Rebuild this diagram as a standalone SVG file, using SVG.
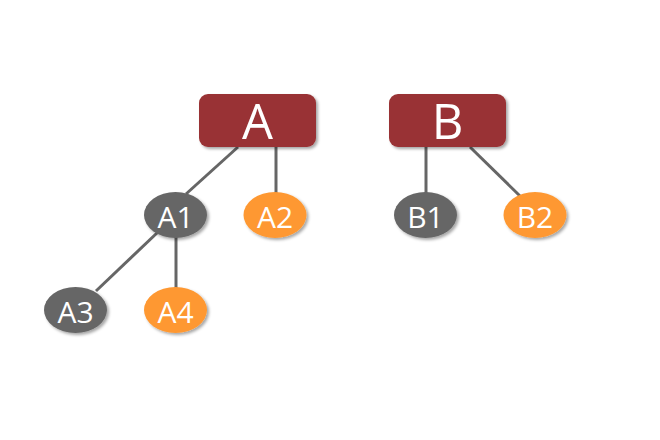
<svg xmlns="http://www.w3.org/2000/svg" width="660" height="440" viewBox="0 0 660 440">
  <defs>
    <filter id="shadow" x="-20%" y="-20%" width="150%" height="160%">
      <feDropShadow dx="2" dy="2" stdDeviation="1.5" flood-color="#000" flood-opacity="0.35"/>
    </filter>
  </defs>
  <style>
    .box { fill: #993334; filter: url(#shadow); }
    .gray { fill: #666666; filter: url(#shadow); }
    .orange { fill: #fe9831; filter: url(#shadow); }
    .big { font-family: "Open Sans", "DejaVu Sans", sans-serif; font-size: 49px; fill: #fff; text-anchor: middle; }
    .small { font-family: "Open Sans", "DejaVu Sans", sans-serif; font-size: 30px; fill: #fff; text-anchor: middle; }
    .link { stroke: #666666; stroke-width: 3; fill: none; }
  </style>
  <rect width="660" height="440" fill="#ffffff"/>

  <g id="connectors">
    <line class="link" x1="238" y1="147" x2="186" y2="194"/>
    <line class="link" x1="276" y1="147" x2="276" y2="193"/>
    <line class="link" x1="426" y1="147" x2="426" y2="193"/>
    <line class="link" x1="470" y1="147" x2="520" y2="196"/>
    <line class="link" x1="158" y1="232" x2="96" y2="291"/>
    <line class="link" x1="176" y1="237" x2="176" y2="289"/>
  </g>

  <g id="A">
    <rect class="box" x="199" y="94" width="117" height="53" rx="9"/>
    <text class="big" x="257.5" y="138.5">A</text>
  </g>
  <g id="B">
    <rect class="box" x="389" y="94" width="117" height="53" rx="9"/>
    <text class="big" x="447.5" y="138.5">B</text>
  </g>
  <g id="A1">
    <ellipse class="gray" cx="175.5" cy="215" rx="31.5" ry="23"/>
    <text class="small" x="175.5" y="227.5">A1</text>
  </g>
  <g id="A2">
    <ellipse class="orange" cx="275" cy="215" rx="31.5" ry="23"/>
    <text class="small" x="275" y="227.5">A2</text>
  </g>
  <g id="B1">
    <ellipse class="gray" cx="425.5" cy="215" rx="31.5" ry="23"/>
    <text class="small" x="425.5" y="227.5">B1</text>
  </g>
  <g id="B2">
    <ellipse class="orange" cx="535" cy="215" rx="31.5" ry="23"/>
    <text class="small" x="535" y="227.5">B2</text>
  </g>
  <g id="A3">
    <ellipse class="gray" cx="75.5" cy="310" rx="31.5" ry="23"/>
    <text class="small" x="75.5" y="322.5">A3</text>
  </g>
  <g id="A4">
    <ellipse class="orange" cx="175.5" cy="310" rx="31.5" ry="23"/>
    <text class="small" x="175.5" y="322.5">A4</text>
  </g>
</svg>
